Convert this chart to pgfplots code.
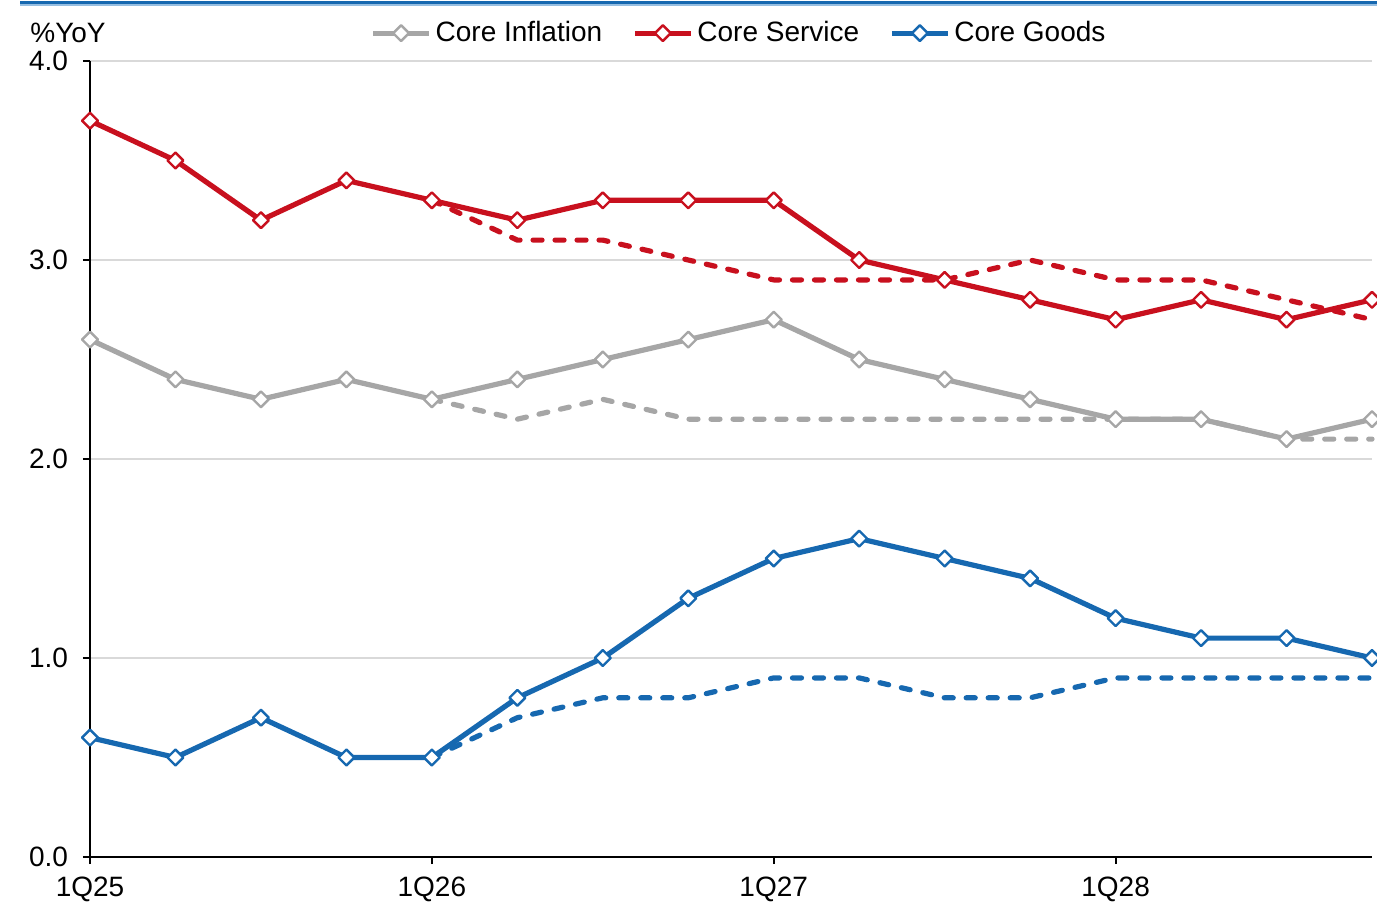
\documentclass[border=0pt]{standalone}
\usepackage{fontspec}
\setmainfont{Liberation Sans}
\usepackage{pgfplots}
\pgfplotsset{compat=1.18}

\definecolor{cpiRed}{RGB}{200,16,30}
\definecolor{cpiGray}{RGB}{166,166,166}
\definecolor{cpiBlue}{RGB}{22,104,176}
\definecolor{gridGray}{RGB}{217,217,217}
\definecolor{ruleLight}{RGB}{150,190,225}

\begin{document}
\begin{tikzpicture}[font=\fontsize{14pt}{17pt}\selectfont]
\useasboundingbox (-45pt,-27.5pt) rectangle (643.5pt,428.5pt);
% rule across the top
\fill[ruleLight] (-35pt,425.6pt) rectangle (643.5pt,426.6pt);
\fill[cpiBlue] (-35pt,426.6pt) rectangle (643.5pt,428pt);

\begin{axis}[
  at={(0,0)}, anchor=origin,
  scale only axis, width=641pt, height=398pt,
  xmin=0, xmax=15, ymin=0, ymax=4,
  clip=false,
  axis x line=bottom, axis y line=left,
  axis line style={black, line width=1pt, -},
  every outer x axis line/.append style={-},
  every outer y axis line/.append style={-},
  ytick={0,1,2,3,4},
  yticklabels={0.0,1.0,2.0,3.0,4.0},
  xtick={0,4,8,12},
  xticklabels={1Q25,1Q26,1Q27,1Q28},
  tick align=outside,
  major tick length=3.5pt,
  tick style={black, line width=1pt},
  yticklabel style={xshift=-4pt},
  xticklabel style={yshift=-3pt},
  ymajorgrids,
  grid style={gridGray, line width=1pt},
  legend style={at={(0.507,1.035)}, anchor=center, draw=none, fill=none,
    inner sep=0pt, font=\fontsize{14pt}{17pt}\selectfont,
    /tikz/every even column/.append style={column sep=13pt}},
  legend columns=-1,
  legend image code/.code={\draw[mark repeat=2,mark phase=2,#1]
    plot coordinates {(0pt,0pt) (14pt,0pt) (28pt,0pt)};},
  every axis plot/.append style={line width=2.6pt, line join=round},
  mark size=2.8pt,
  mark options={solid, rotate=45, fill=white, line width=1.2pt},
]

% projections (dashed), from 1Q26
\addplot[cpiGray, dash pattern=on 4.5pt off 6.5pt, line cap=round, forget plot]
coordinates {(4,2.3) (5,2.2) (6,2.3) (7,2.2) (8,2.2) (9,2.2) (10,2.2) (11,2.2) (12,2.2) (13,2.2) (14,2.1) (15,2.1)};
\addplot[cpiRed, dash pattern=on 4.5pt off 6.5pt, line cap=round, forget plot]
coordinates {(4,3.3) (5,3.1) (6,3.1) (7,3.0) (8,2.9) (9,2.9) (10,2.9) (11,3.0) (12,2.9) (13,2.9) (14,2.8) (15,2.7)};
\addplot[cpiBlue, dash pattern=on 4.5pt off 6.5pt, line cap=round, forget plot]
coordinates {(4,0.5) (5,0.7) (6,0.8) (7,0.8) (8,0.9) (9,0.9) (10,0.8) (11,0.8) (12,0.9) (13,0.9) (14,0.9) (15,0.9)};

% actual / forecast (solid)
\addplot[cpiGray, mark=square*]
coordinates {(0,2.6) (1,2.4) (2,2.3) (3,2.4) (4,2.3) (5,2.4) (6,2.5) (7,2.6) (8,2.7) (9,2.5) (10,2.4) (11,2.3) (12,2.2) (13,2.2) (14,2.1) (15,2.2)};
\addlegendentry{Core Inflation}
\addplot[cpiRed, mark=square*]
coordinates {(0,3.7) (1,3.5) (2,3.2) (3,3.4) (4,3.3) (5,3.2) (6,3.3) (7,3.3) (8,3.3) (9,3.0) (10,2.9) (11,2.8) (12,2.7) (13,2.8) (14,2.7) (15,2.8)};
\addlegendentry{Core Service}
\addplot[cpiBlue, mark=square*]
coordinates {(0,0.6) (1,0.5) (2,0.7) (3,0.5) (4,0.5) (5,0.8) (6,1.0) (7,1.3) (8,1.5) (9,1.6) (10,1.5) (11,1.4) (12,1.2) (13,1.1) (14,1.1) (15,1.0)};
\addlegendentry{Core Goods}
\end{axis}
\node[anchor=west, inner sep=0pt] at (-30pt,412pt) {\%YoY};
\end{tikzpicture}
\end{document}
